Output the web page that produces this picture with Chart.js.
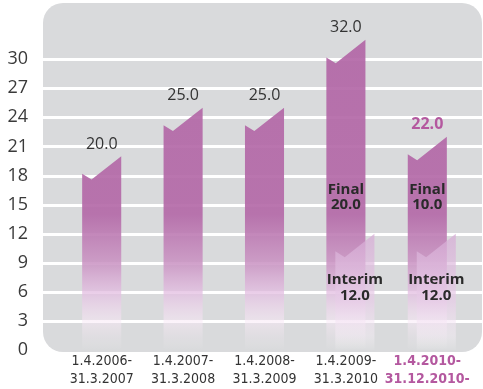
<!DOCTYPE html>
<html>
<head>
<meta charset="utf-8">
<script src="https://cdn.jsdelivr.net/npm/chart.js@4.4.0/dist/chart.umd.min.js"></script>
<style>
  html, body { margin: 0; padding: 0; background: #fff; }
  #wrap { width: 483px; height: 389px; }
</style>
</head>
<body>
<div id="wrap"><canvas id="dividendChart"></canvas></div>
<script>
// dividend per period (cents), last period split into final + interim
const periods = [
  ['1.4.2006-', '31.3.2007'],
  ['1.4.2007-', '31.3.2008'],
  ['1.4.2008-', '31.3.2009'],
  ['1.4.2009-', '31.3.2010'],
  ['1.4.2010-', '31.12.2010-']
];
const totalDividend = [20.0, 25.0, 25.0, 32.0, 22.0];
const finalDividend = [null, null, null, 20.0, 10.0];
const interimDividend = [null, null, null, 12.0, 12.0];
const yTicks = [0, 3, 6, 9, 12, 15, 18, 21, 24, 27, 30];

const MAGENTA = '#b4589f';
const TEXT = '#333';

// bar with a slanted, notched top
function chevronPath(ctx, x0, w, yTop, yBase) {
  ctx.beginPath();
  ctx.moveTo(x0, yBase);
  ctx.lineTo(x0, yTop + w * 0.45);
  ctx.lineTo(x0 + w * 0.24, yTop + w * 0.6);
  ctx.lineTo(x0 + w, yTop);
  ctx.lineTo(x0 + w, yBase);
  ctx.closePath();
}

function valueGradient(ctx, y, stops) {
  const g = ctx.createLinearGradient(0, y.getPixelForValue(0), 0, y.getPixelForValue(35));
  stops.forEach(([v, c]) => g.addColorStop(v / 35, c));
  return g;
}

const panelPlugin = {
  id: 'panel',
  beforeDatasetsDraw(chart) {
    const { ctx, chartArea: a, scales: { y } } = chart;
    const left = a.left - 18, right = a.right + 14;
    const bottom = y.getPixelForValue(0) + 2;
    ctx.save();
    ctx.fillStyle = '#d9dadc';
    ctx.beginPath();
    ctx.roundRect(left, a.top, right - left, bottom - a.top, 20);
    ctx.fill();
    ctx.strokeStyle = '#ffffff';
    ctx.lineWidth = 3;
    yTicks.forEach(v => {
      if (v === 0) return;
      const py = Math.round(y.getPixelForValue(v)) + 0.5;
      ctx.beginPath();
      ctx.moveTo(left, py);
      ctx.lineTo(right, py);
      ctx.stroke();
    });
    ctx.restore();
  }
};

const barsPlugin = {
  id: 'chevronBars',
  afterDatasetsDraw(chart) {
    const { ctx, scales: { y } } = chart;
    const totals = chart.getDatasetMeta(0).data;
    const interims = chart.getDatasetMeta(1).data;

    const mainFill = valueGradient(ctx, y, [
      [0, 'rgba(255,255,255,0)'],
      [1.2, 'rgba(245,232,243,0.2)'],
      [3, 'rgba(248,232,246,0.55)'],
      [6, 'rgba(226,188,224,0.75)'],
      [9, 'rgba(202,148,195,0.88)'],
      [14, 'rgba(180,106,168,0.92)'],
      [35, 'rgba(178,102,166,0.92)']
    ]);
    const interimFill = valueGradient(ctx, y, [
      [0, 'rgba(255,255,255,0.05)'],
      [1.5, 'rgba(250,240,250,0.4)'],
      [5, 'rgba(232,205,232,0.7)'],
      [12, 'rgba(214,171,213,0.72)'],
      [35, 'rgba(214,171,213,0.72)']
    ]);

    ctx.save();
    totals.forEach((bar, i) => {
      const { x, y: top, base, width } = bar.getProps(['x', 'y', 'base', 'width'], true);
      chevronPath(ctx, x - width / 2, width, top, base);
      ctx.fillStyle = mainFill;
      ctx.fill();

      ctx.font = (i === 4 ? 'bold ' : '') + '16px "Open Sans", sans-serif';
      ctx.fillStyle = i === 4 ? MAGENTA : TEXT;
      ctx.textAlign = 'center';
      ctx.textBaseline = 'middle';
      ctx.fillText(totalDividend[i].toFixed(1), x, top - 12);
    });

    interims.forEach((bar, i) => {
      if (interimDividend[i] == null) return;
      const { x, y: top, base, width } = bar.getProps(['x', 'y', 'base', 'width'], true);
      const shift = width * 0.23;
      chevronPath(ctx, x - width / 2 + shift, width, top, base);
      ctx.fillStyle = interimFill;
      ctx.fill();

      ctx.fillStyle = '#2a2a2a';
      ctx.font = 'bold 15px "Open Sans", sans-serif';
      ctx.textAlign = 'center';
      ctx.textBaseline = 'middle';
      ctx.fillText('Final', x, top - 44);
      ctx.fillText(finalDividend[i].toFixed(1), x, top - 29);
      ctx.fillText('Interim', x + shift, top + 46);
      ctx.fillText(interimDividend[i].toFixed(1), x + shift, top + 62);
    });
    ctx.restore();
  }
};

new Chart(document.getElementById('dividendChart').getContext('2d'), {
  type: 'bar',
  data: {
    labels: periods,
    datasets: [{
      label: 'Total',
      data: totalDividend,
      backgroundColor: 'transparent',
      categoryPercentage: 1,
      barPercentage: 0.48
    }, {
      label: 'Interim',
      data: interimDividend,
      backgroundColor: 'transparent',
      grouped: false,
      categoryPercentage: 1,
      barPercentage: 0.48
    }]
  },
  options: {
    responsive: true,
    maintainAspectRatio: false,
    animation: false,
    layout: { padding: { top: 3, right: 15, left: 0, bottom: 0 } },
    plugins: {
      legend: { display: false },
      tooltip: { enabled: false }
    },
    scales: {
      x: {
        grid: { display: false, drawTicks: false },
        border: { display: false },
        ticks: {
          padding: 3,
          autoSkip: false,
          maxRotation: 0,
          minRotation: 0,
          color: c => c.index === 4 ? MAGENTA : TEXT,
          font: c => ({
            family: '"Liberation Sans Narrow", "DejaVu Sans Condensed", sans-serif',
            size: 14,
            weight: c.index === 4 ? 'bold' : 'normal',
            lineHeight: 1.25
          })
        },
        afterFit: s => { s.height = 39; s.paddingLeft = 0; s.paddingRight = 0; }
      },
      y: {
        min: 0,
        max: 35.8,
        grid: { display: false, drawTicks: false },
        border: { display: false },
        ticks: {
          padding: 33,
          color: '#3a3a3a',
          font: { family: '"Open Sans", sans-serif', size: 18 }
        },
        afterBuildTicks: s => { s.ticks = yTicks.map(v => ({ value: v })); },
        afterFit: s => { s.width = 61; s.paddingTop = 0; s.paddingBottom = 0; }
      }
    }
  },
  plugins: [panelPlugin, barsPlugin]
});
</script>
</body>
</html>
